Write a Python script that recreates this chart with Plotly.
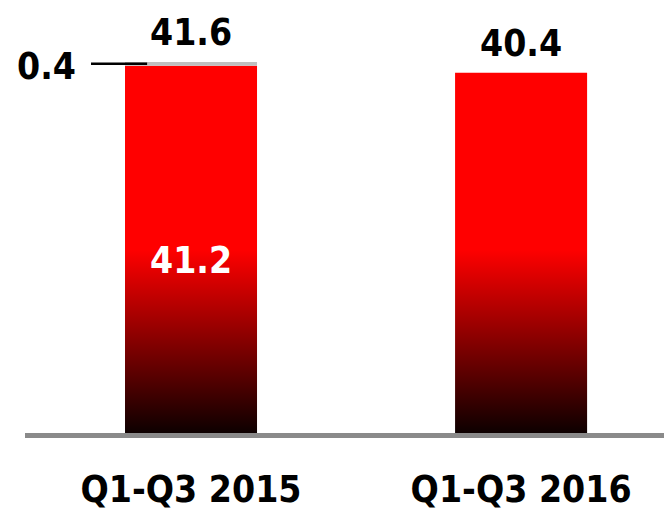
import plotly.graph_objects as go

# Data
categories = ["Q1-Q3 2015", "Q1-Q3 2016"]
base_values = [41.2, 40.4]          # main bar values
extra_values = [0.4, 0.0]           # small stacked segment on top
total_labels = ["41.6", "40.4"]
base_labels = ["41.2", ""]
extra_labels = ["0.4", ""]

BAR_W = 0.4
FONT = "DejaVu Sans Condensed, Arial Narrow, Liberation Sans, Arial"
FS = 37

fig = go.Figure()

# Bars with vertical red-to-black gradient, drawn as filled polygons
for i, v in enumerate(base_values):
    x0, x1 = i - BAR_W / 2, i + BAR_W / 2
    fig.add_trace(go.Scatter(
        x=[x0, x1, x1, x0, x0], y=[0, 0, v, v, 0],
        mode="lines", line=dict(width=0),
        fill="toself",
        fillgradient=dict(type="vertical", start=0, stop=max(base_values) / 2,
                          colorscale=[[0, "#0d0000"], [1, "#ff0000"]]),
        hoverinfo="skip", showlegend=False,
    ))

# Grey segment stacked on top
for i, (b, e) in enumerate(zip(base_values, extra_values)):
    if e <= 0:
        continue
    x0, x1 = i - BAR_W / 2, i + BAR_W / 2
    fig.add_trace(go.Scatter(
        x=[x0, x1, x1, x0, x0], y=[b, b, b + e, b + e, b],
        mode="lines", line=dict(width=0), fill="toself", fillcolor="#bfbfbf",
        hoverinfo="skip", showlegend=False,
    ))
    # leader line to the segment label
    fig.add_shape(type="line", xref="x", yref="y",
                  x0=i - 0.303, x1=i - 0.133, y0=b + e / 2, y1=b + e / 2,
                  line=dict(color="black", width=2.5))
    fig.add_annotation(x=i - 0.303, y=b + e / 2, text=extra_labels[i],
                       xanchor="right", yanchor="middle", showarrow=False,
                       xshift=-13, yshift=-3,
                       font=dict(family=FONT, size=FS, color="black", weight="bold"))

# Total labels above the bars
for i, (b, e) in enumerate(zip(base_values, extra_values)):
    fig.add_annotation(x=i, y=b + e, text=total_labels[i], showarrow=False,
                       xanchor="center", yanchor="bottom", yshift=6,
                       font=dict(family=FONT, size=FS, color="black", weight="bold"))

# Inner value labels
for i, b in enumerate(base_values):
    if base_labels[i]:
        fig.add_annotation(x=i, y=b / 2, text=base_labels[i], showarrow=False,
                           xanchor="center", yanchor="middle", yshift=-11,
                           font=dict(family=FONT, size=FS, color="white", weight="bold"))

fig.update_layout(
    width=664, height=510,
    margin=dict(l=25, r=0, t=5, b=77),
    plot_bgcolor="white", paper_bgcolor="white",
    showlegend=False,
    xaxis=dict(range=[-0.503, 1.433], tickmode="array", tickvals=[0, 1],
               ticktext=categories, showgrid=False, zeroline=False,
               showline=True, linecolor="#8a8a8a", linewidth=5,
               ticks="", ticklabelstandoff=20, automargin=False,
               tickfont=dict(family=FONT, size=FS, color="black", weight="bold")),
    yaxis=dict(range=[0, 48], visible=False, showgrid=False, zeroline=False),
)

fig.write_html("out.html")
